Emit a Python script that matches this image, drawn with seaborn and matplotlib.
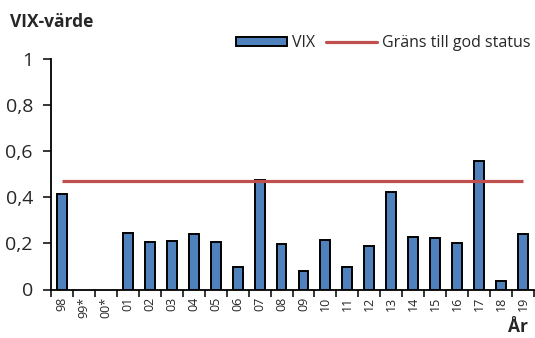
import numpy as np
import pandas as pd
import seaborn as sns
import matplotlib
matplotlib.use("Agg")
import matplotlib.pyplot as plt
from matplotlib.patches import Patch
from matplotlib.lines import Line2D

years = ["98", "99*", "00*", "01", "02", "03", "04", "05", "06", "07", "08",
         "09", "10", "11", "12", "13", "14", "15", "16", "17", "18", "19"]
vix = [0.414, np.nan, np.nan, 0.246, 0.206, 0.211, 0.240, 0.207, 0.097, 0.476, 0.197,
       0.078, 0.216, 0.096, 0.187, 0.423, 0.229, 0.224, 0.200, 0.555, 0.036, 0.239]
threshold = 0.47
yticks = [0, 0.2, 0.4, 0.6, 0.8, 1]
ytick_labels = ["0", "0,2", "0,4", "0,6", "0,8", "1"]

bar_color = "#4F81BD"
line_color = "#C0504D"

sns.set_theme(style="white")
plt.rcParams["font.family"] = ["Open Sans", "DejaVu Sans"]

df = pd.DataFrame({"År": years, "VIX": vix})

fig = plt.figure(figsize=(5.35, 3.38), dpi=100)
ax = fig.add_axes([51 / 535, 1 - 289.5 / 338, (534 - 51) / 535, (289.5 - 58.5) / 338])

sns.barplot(data=df, x="År", y="VIX", order=years, color=bar_color,
            edgecolor="black", linewidth=1.4, width=0.45, saturation=1, ax=ax)
ax.hlines(threshold, 0, len(years) - 1, color=line_color, linewidth=2.3, zorder=3)

ax.set_xlim(-0.5, len(years) - 0.5)
ax.set_ylim(0, 1)
ax.set_yticks(yticks)
ax.set_yticklabels(ytick_labels, fontsize=14)
ax.set_xticks(range(len(years)))
ax.set_xticklabels(years, rotation=90, fontsize=9)
ax.tick_params(axis="x", length=0, pad=5)
ax.set_xticks(np.arange(-0.5, len(years) + 0.5, 1), minor=True)
ax.tick_params(axis="x", which="minor", direction="out", length=5, width=1.1, color="black", bottom=True)
ax.tick_params(axis="y", direction="out", length=6, width=1.1, color="black", left=True, pad=7)
ax.set_xlabel("")
ax.set_ylabel("")

for s in ["top", "right"]:
    ax.spines[s].set_visible(False)
for s in ["left", "bottom"]:
    ax.spines[s].set_color("black")
    ax.spines[s].set_linewidth(1.3)

fig.text(10 / 535, 1 - 22 / 338, "VIX-värde", fontsize=12.5, fontweight="bold",
         ha="left", va="center")
fig.text(528 / 535, 1 - 327 / 338, "År", fontsize=12.5, fontweight="bold",
         ha="right", va="center")

handles = [Patch(facecolor=bar_color, edgecolor="black", linewidth=1.4),
           Line2D([0], [0], color=line_color, linewidth=2.3)]
fig.legend(handles, ["VIX", "Gräns till god status"], loc="center right",
           bbox_to_anchor=(537 / 535, 1 - 43 / 338), ncol=2, frameon=False,
           fontsize=11.5, handlelength=3.2, handleheight=0.5, handletextpad=0.3,
           columnspacing=0.7, borderaxespad=0)

fig.savefig("out.png", dpi=100)
